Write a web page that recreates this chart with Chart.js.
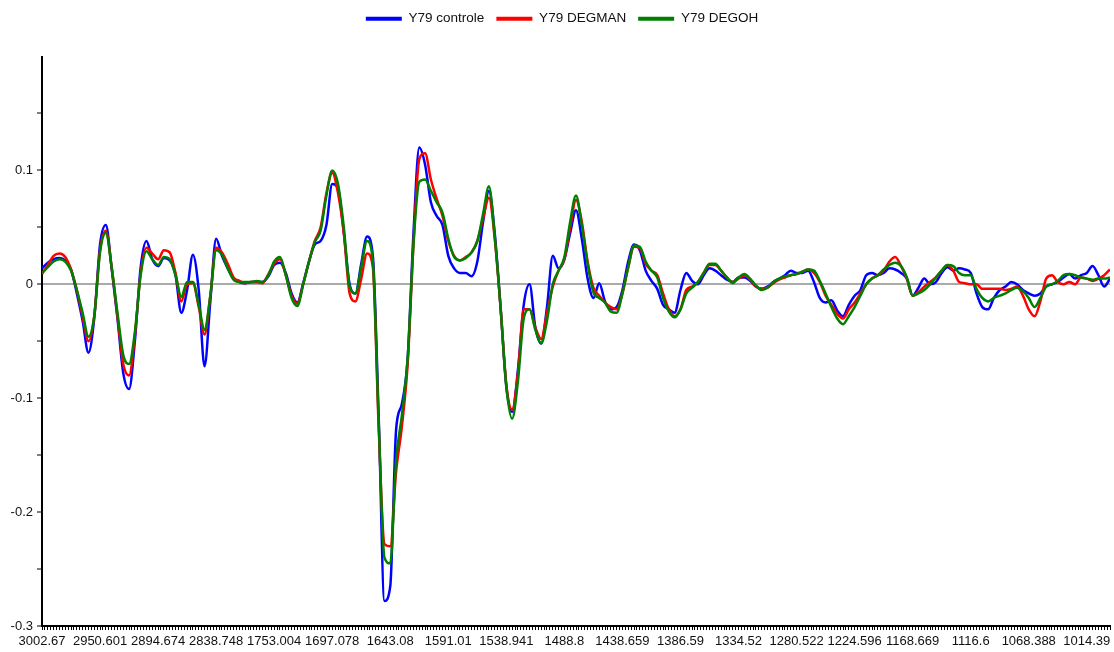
<!DOCTYPE html>
<html><head><meta charset="utf-8">
<script src="https://cdn.jsdelivr.net/npm/chart.js@4/dist/chart.umd.min.js"></script>
<style>html,body{margin:0;padding:0;background:#fff}#wrap{width:1114px;height:652px;position:relative}</style>
</head><body><div id="wrap"><canvas id="c"></canvas></div>
<script>
const SERIES_NAMES = ['Y79 controle', 'Y79 DEGMAN', 'Y79 DEGOH'];
const SERIES_COLORS = ['#0000ff', '#ff0000', '#008000'];
const X_TICK_LABELS = ['3002.67','2950.601','2894.674','2838.748','1753.004','1697.078','1643.08','1591.01','1538.941','1488.8','1438.659','1386.59','1334.52','1280.522','1224.596','1168.669','1116.6','1068.388','1014.39'];
const POINTS_PER_LABEL = 10;
const Y_TICK_LABELS = [0.1, 0, -0.1, -0.2, -0.3];

const CONTROLE = [0.014,0.019,0.022,0.023,0.021,0.013,-0.008,-0.032,-0.060,-0.030,0.035,0.052,0.014,-0.030,-0.078,-0.092,-0.050,0.015,0.038,0.022,
0.016,0.023,0.021,0.008,-0.025,-0.005,0.026,-0.005,-0.072,-0.015,0.040,0.025,0.014,0.005,0.002,0.001,0.002,0.002,0.002,0.007,
0.017,0.019,0.010,-0.008,-0.016,0.001,0.020,0.035,0.038,0.052,0.088,0.084,0.045,0.000,-0.008,0.018,0.042,0.025,-0.115,-0.278,
-0.265,-0.128,-0.105,-0.065,0.045,0.120,0.105,0.072,0.060,0.052,0.025,0.014,0.010,0.010,0.007,0.020,0.055,0.082,0.045,-0.020,
-0.090,-0.112,-0.075,-0.018,0.000,-0.038,-0.052,-0.020,0.025,0.014,0.022,0.045,0.065,0.040,0.005,-0.012,0.001,-0.015,-0.022,-0.020,
-0.005,0.020,0.035,0.030,0.012,0.003,-0.004,-0.018,-0.022,-0.025,-0.005,0.010,0.003,0.000,0.008,0.014,0.012,0.008,0.004,0.002,
0.006,0.006,0.003,-0.002,-0.004,-0.002,0.002,0.005,0.008,0.012,0.010,0.010,0.012,0.002,-0.012,-0.016,-0.014,-0.023,-0.028,-0.018,
-0.010,-0.005,0.008,0.010,0.008,0.010,0.014,0.013,0.010,0.005,-0.010,-0.003,0.005,0.000,0.002,0.010,0.015,0.012,0.014,0.013,
0.010,-0.008,-0.020,-0.022,-0.012,-0.005,-0.002,0.002,0.000,-0.005,-0.008,-0.010,-0.008,-0.002,0.000,0.002,0.006,0.009,0.005,0.008,
0.010,0.016,0.008,-0.002,0.005];

const DEGMAN = [0.009,0.017,0.025,0.027,0.024,0.013,-0.005,-0.028,-0.050,-0.028,0.030,0.047,0.015,-0.028,-0.070,-0.080,-0.045,0.010,0.032,0.027,
0.022,0.030,0.028,0.010,-0.015,0.000,0.001,-0.020,-0.044,-0.010,0.032,0.028,0.018,0.006,0.003,0.001,0.002,0.002,0.001,0.009,
0.018,0.022,0.008,-0.010,-0.017,0.000,0.020,0.038,0.050,0.080,0.098,0.080,0.045,-0.008,-0.015,0.005,0.027,0.015,-0.125,-0.228,
-0.230,-0.165,-0.125,-0.070,0.035,0.110,0.115,0.092,0.075,0.060,0.038,0.025,0.021,0.024,0.028,0.038,0.058,0.076,0.040,-0.020,
-0.088,-0.110,-0.078,-0.022,-0.022,-0.038,-0.048,-0.025,-0.002,0.012,0.022,0.050,0.074,0.055,0.020,-0.003,-0.010,-0.016,-0.020,-0.022,
-0.008,0.015,0.033,0.032,0.018,0.012,0.008,-0.008,-0.022,-0.028,-0.022,-0.005,-0.002,0.002,0.010,0.017,0.017,0.012,0.006,0.002,
0.005,0.008,0.004,-0.002,-0.004,-0.003,0.001,0.004,0.006,0.008,0.009,0.011,0.013,0.010,0.002,-0.010,-0.018,-0.026,-0.030,-0.022,
-0.016,-0.008,0.000,0.005,0.008,0.012,0.020,0.024,0.016,0.005,-0.010,-0.007,-0.002,0.002,0.006,0.012,0.017,0.012,0.002,0.001,
0.000,0.000,-0.004,-0.004,-0.004,-0.004,-0.005,-0.004,-0.002,-0.010,-0.022,-0.028,-0.015,0.005,0.008,0.002,0.000,0.002,0.000,0.006,
0.005,0.003,0.005,0.008,0.013];

const DEGOH = [0.010,0.015,0.020,0.022,0.020,0.012,-0.005,-0.025,-0.046,-0.028,0.028,0.045,0.015,-0.025,-0.062,-0.070,-0.042,0.008,0.029,0.022,
0.017,0.024,0.022,0.008,-0.011,0.002,0.002,-0.018,-0.040,-0.010,0.030,0.026,0.014,0.004,0.002,0.002,0.002,0.003,0.002,0.008,
0.020,0.024,0.008,-0.012,-0.019,0.000,0.020,0.037,0.047,0.078,0.100,0.088,0.050,-0.002,-0.008,0.015,0.038,0.020,-0.120,-0.240,
-0.245,-0.155,-0.115,-0.065,0.035,0.090,0.092,0.082,0.072,0.063,0.040,0.024,0.021,0.023,0.028,0.038,0.062,0.086,0.042,-0.020,
-0.090,-0.118,-0.085,-0.030,-0.022,-0.040,-0.052,-0.032,0.000,0.012,0.024,0.055,0.078,0.052,0.018,-0.007,-0.012,-0.016,-0.024,-0.025,
-0.008,0.015,0.034,0.033,0.020,0.012,0.006,-0.012,-0.024,-0.029,-0.022,-0.008,-0.003,0.002,0.010,0.018,0.018,0.012,0.006,0.001,
0.006,0.009,0.005,-0.001,-0.005,-0.003,0.002,0.005,0.007,0.008,0.009,0.011,0.013,0.012,0.003,-0.008,-0.020,-0.030,-0.035,-0.028,
-0.020,-0.010,0.000,0.005,0.008,0.013,0.017,0.019,0.016,0.006,-0.010,-0.008,-0.005,0.000,0.006,0.012,0.017,0.016,0.010,0.008,
0.008,-0.004,-0.012,-0.015,-0.012,-0.010,-0.008,-0.005,-0.003,-0.006,-0.012,-0.020,-0.012,-0.002,0.000,0.003,0.008,0.009,0.008,0.006,
0.005,0.004,0.005,0.005,0.006];

const SERIES = [CONTROLE, DEGMAN, DEGOH];
const FONT = 'Arial, "Liberation Sans", sans-serif';
const isMult = (v, step) => Math.abs(v / step - Math.round(v / step)) < 1e-6;

const datasets = SERIES.map((vals, k) => ({
  label: SERIES_NAMES[k],
  data: vals.map((y, i) => ({ x: i, y: y })),
  borderColor: SERIES_COLORS[k],
  backgroundColor: SERIES_COLORS[k],
  borderWidth: 2.5,
  pointRadius: 0,
  pointHoverRadius: 0,
  cubicInterpolationMode: 'monotone',
  order: 2 - k
}));

const legendLayout = {
  id: 'legendLayout',
  beforeInit(chart) {
    const lg = chart.legend;
    const fit = lg.fit;
    lg.fit = function () { fit.call(this); this.height += 21; };
    const draw = lg.draw;
    lg.draw = function () { const c = chart.ctx; c.save(); c.translate(7, 0); draw.call(this); c.restore(); };
  }
};

new Chart(document.getElementById('c'), {
  type: 'line',
  data: { datasets },
  plugins: [legendLayout],
  options: {
    responsive: true,
    maintainAspectRatio: false,
    animation: false,
    events: [],
    layout: { padding: { top: 0, right: 4, left: 0, bottom: 0 } },
    plugins: {
      tooltip: { enabled: false },
      legend: {
        position: 'top',
        align: 'center',
        labels: {
          usePointStyle: true,
          pointStyle: 'line',
          pointStyleWidth: 36,
          padding: 12,
          color: '#111',
          font: { family: FONT, size: 13.5 },
          generateLabels: (chart) => chart.data.datasets.map((d, i) => ({
            text: d.label, datasetIndex: i, strokeStyle: d.borderColor, fillStyle: d.borderColor,
            lineWidth: 4, pointStyle: 'line', hidden: false, fontColor: '#111'
          }))
        }
      }
    },
    scales: {
      x: {
        type: 'linear',
        min: 0,
        max: SERIES[0].length - 1,
        afterFit: (s) => { s.height = 26; },
        border: { display: true, color: '#000', width: 2 },
        grid: { display: true, drawOnChartArea: false, drawTicks: true, tickLength: 4, color: '#000', tickColor: '#000', tickWidth: 1 },
        ticks: {
          stepSize: 0.5,
          autoSkip: false,
          maxRotation: 0,
          minRotation: 0,
          padding: 4,
          color: '#111',
          font: { family: FONT, size: 13 },
          callback: (v) => {
            if (!isMult(v, POINTS_PER_LABEL)) return '';
            const k = Math.round(v / POINTS_PER_LABEL);
            return k < X_TICK_LABELS.length ? X_TICK_LABELS[k] : '';
          }
        }
      },
      y: {
        min: -0.3,
        max: 0.2,
        afterFit: (s) => { s.width = 42; },
        border: { display: true, color: '#000', width: 2 },
        grid: {
          drawOnChartArea: true,
          drawTicks: true,
          tickLength: 5,
          color: (ctx) => (ctx.tick && Math.abs(ctx.tick.value) < 1e-9) ? '#aaaaaa' : 'rgba(0,0,0,0)',
          lineWidth: (ctx) => (ctx.tick && Math.abs(ctx.tick.value) < 1e-9) ? 2 : 0,
          tickColor: (ctx) => (ctx.tick && ctx.tick.value > 0.19) ? 'rgba(0,0,0,0)' : '#000',
          tickWidth: 1
        },
        ticks: {
          stepSize: 0.05,
          padding: 4,
          color: '#111',
          font: { family: FONT, size: 13 },
          callback: (v) => {
            const hit = Y_TICK_LABELS.find(t => Math.abs(t - v) < 1e-9);
            return hit === undefined ? '' : String(hit);
          }
        }
      }
    }
  }
});
</script>
</body></html>
